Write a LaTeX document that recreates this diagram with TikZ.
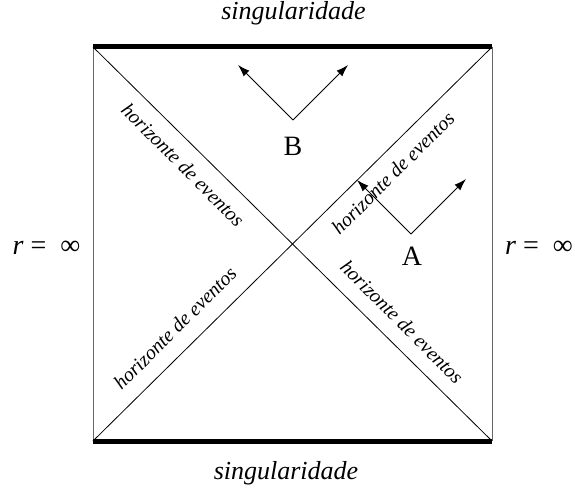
\documentclass[tikz,border=0pt]{standalone}
\usepackage{fontspec}
\setmainfont{Liberation Serif}
\usetikzlibrary{arrows.meta}
\begin{document}
\begin{tikzpicture}[x=1pt,y=-1pt,
  lbl/.style={font=\fontsize{20}{24}\selectfont\itshape, inner sep=0pt},
  sing/.style={font=\fontsize{26}{30}\selectfont\itshape, inner sep=0pt},
  big/.style={font=\fontsize{28}{32}\selectfont, inner sep=0pt},
  rinf/.style={font=\fontsize{28}{32}\selectfont, inner sep=0pt},
  vec/.style={-{Latex[length=12pt,width=8pt]}, line width=0.8pt},
  edgeline/.style={line width=0.8pt},
  sideline/.style={line width=1pt, black!60},
  thickline/.style={line width=5pt}]
\useasboundingbox (0,0) rectangle (575,492);
% corners
\coordinate (TL) at (93,47);
\coordinate (TR) at (492,47);
\coordinate (BL) at (93,441);
\coordinate (BR) at (492,441);
% square
\draw[sideline] (TL) -- (BL);
\draw[sideline] (TR) -- (BR);
\draw[thickline] (TL) -- (TR);
\draw[thickline] (BL) -- (BR);
\draw[edgeline] (TL) -- (BR);
\draw[edgeline] (BL) -- (TR);
% labels
\node[sing] (stop) at (293.5,13) {singularidade};
\node[sing] (sbot) at (286,473) {singularidade};
\node[rinf] (rl) at (46.5,248) {\textit{r} = \hspace{0.25em}∞};
\node[rinf] (rr) at (539,248) {\textit{r} = \hspace{0.25em}∞};
\node[lbl, rotate=-45] (h1) at (183,165) {horizonte de eventos};
\node[lbl, rotate=45] (h2) at (393,173) {horizonte de eventos};
\node[lbl, rotate=45] (h3) at (175,328) {horizonte de eventos};
\node[lbl, rotate=-45] (h4) at (402,322) {horizonte de eventos};
% B
\coordinate (Bo) at (293,120);
\coordinate (Bl) at (238,65);
\coordinate (Br) at (348,65);
\draw[vec] (Bo) -- (Bl);
\draw[vec] (Bo) -- (Br);
\node[big] (B) at (293,146.5) {B};
% A
\coordinate (Ao) at (411,234);
\coordinate (Al) at (357,180);
\coordinate (Ar) at (466,179);
\draw[vec] (Ao) -- (Al);
\draw[vec] (Ao) -- (Ar);
\node[big] (A) at (412,256) {A};
\end{tikzpicture}
\end{document}
